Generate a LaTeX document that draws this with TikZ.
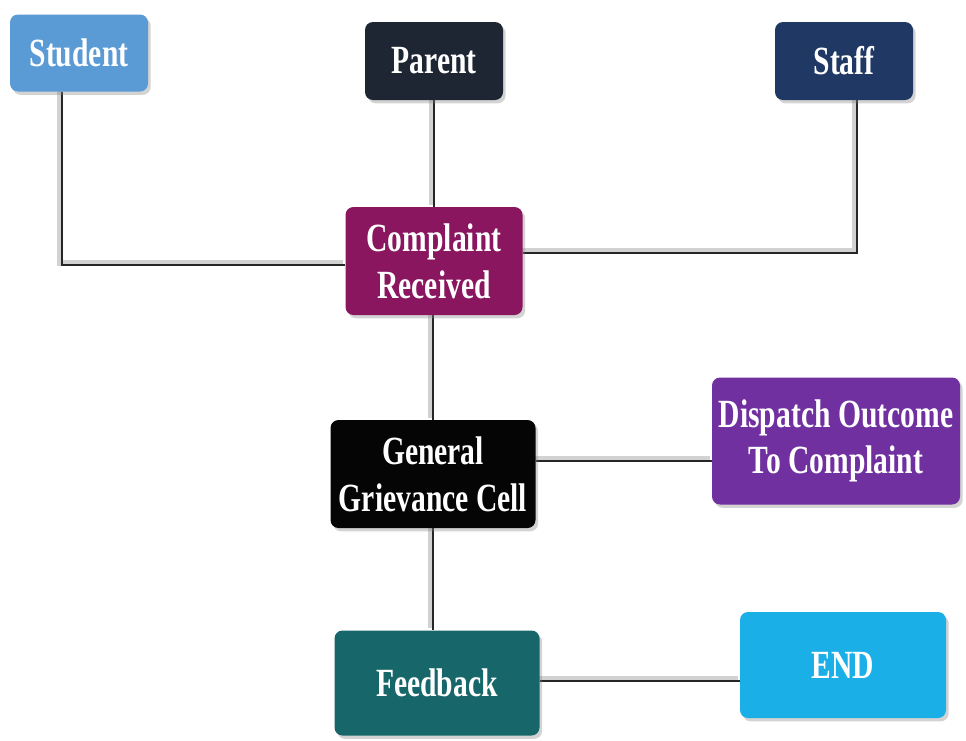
\documentclass[tikz,border=0pt]{standalone}
\usepackage{fontspec}
\newfontfamily\condfont[FakeStretch=0.74]{Liberation Serif}
\usetikzlibrary{shadows,backgrounds}
\definecolor{cStudent}{HTML}{5B9BD5}
\definecolor{cParent}{HTML}{1E2633}
\definecolor{cStaff}{HTML}{1F3864}
\definecolor{cComplaint}{HTML}{8A1660}
\definecolor{cGrievance}{HTML}{050505}
\definecolor{cDispatch}{HTML}{7030A0}
\definecolor{cFeedback}{HTML}{17676A}
\definecolor{cEnd}{HTML}{1AAFE6}
\tikzset{
  box/.style={rounded corners=6pt, text=white, align=center,
    font=\condfont\bfseries\fontsize{30}{35}\selectfont,
    inner sep=0pt, drop shadow={shadow xshift=2pt, shadow yshift=-2.5pt, opacity=0.35}},
  conn/.style={draw=black!85, line width=2pt,
    preaction={draw=gray!35, line width=4pt, transform canvas={shift={(-1.5pt,1.5pt)}}}}
}
\begin{document}
\begin{tikzpicture}[x=0.75pt, y=-0.75pt]
\useasboundingbox (0,0) rectangle (966,740);
\node[box, fill=cStudent, minimum width=103.5pt, minimum height=57.75pt] (st) at (79,53) {Student};
\node[box, fill=cParent, minimum width=103.5pt, minimum height=58.5pt] (pa) at (434,61) {Parent};
\node[box, fill=cStaff, minimum width=103.5pt, minimum height=58.5pt] (sf) at (844,61) {Staff};
\node[box, fill=cComplaint, minimum width=132.75pt, minimum height=81pt] (cr) at (434,261) {Complaint\\Received};
\node[box, fill=cGrievance, minimum width=153.75pt, minimum height=81pt] (gg) at (433,474) {General\\Grievance Cell};
\node[box, fill=cDispatch, minimum width=186pt, minimum height=95.25pt] (dp) at (836,441) {Dispatch Outcome\\To Complaint};
\node[box, fill=cFeedback, minimum width=153.75pt, minimum height=78.75pt] (fb) at (437,683) {Feedback};
\node[box, fill=cEnd, minimum width=154.5pt, minimum height=79.5pt] (en) at (843,665) {END};
\coordinate (c1) at (62,265);
\coordinate (c2) at (857,253);
\coordinate (c3) at (620,461);
\coordinate (c4) at (640,681);
\coordinate (c5) at (433,560);
\begin{scope}[on background layer]
\draw[conn] (st.south -| c1) |- (cr.west |- c1);
\draw[conn] (sf.south -| c2) |- (cr.east |- c2);
\draw[conn] (pa.south) -- (cr.north);
\draw[conn] (cr.south -| c5) -- (gg.north -| c5);
\draw[conn] (gg.east |- c3) -- (dp.west |- c3);
\draw[conn] (gg.south -| c5) -- (fb.north -| c5);
\draw[conn] (fb.east |- c4) -- (en.west |- c4);
\end{scope}
\end{tikzpicture}
\end{document}
